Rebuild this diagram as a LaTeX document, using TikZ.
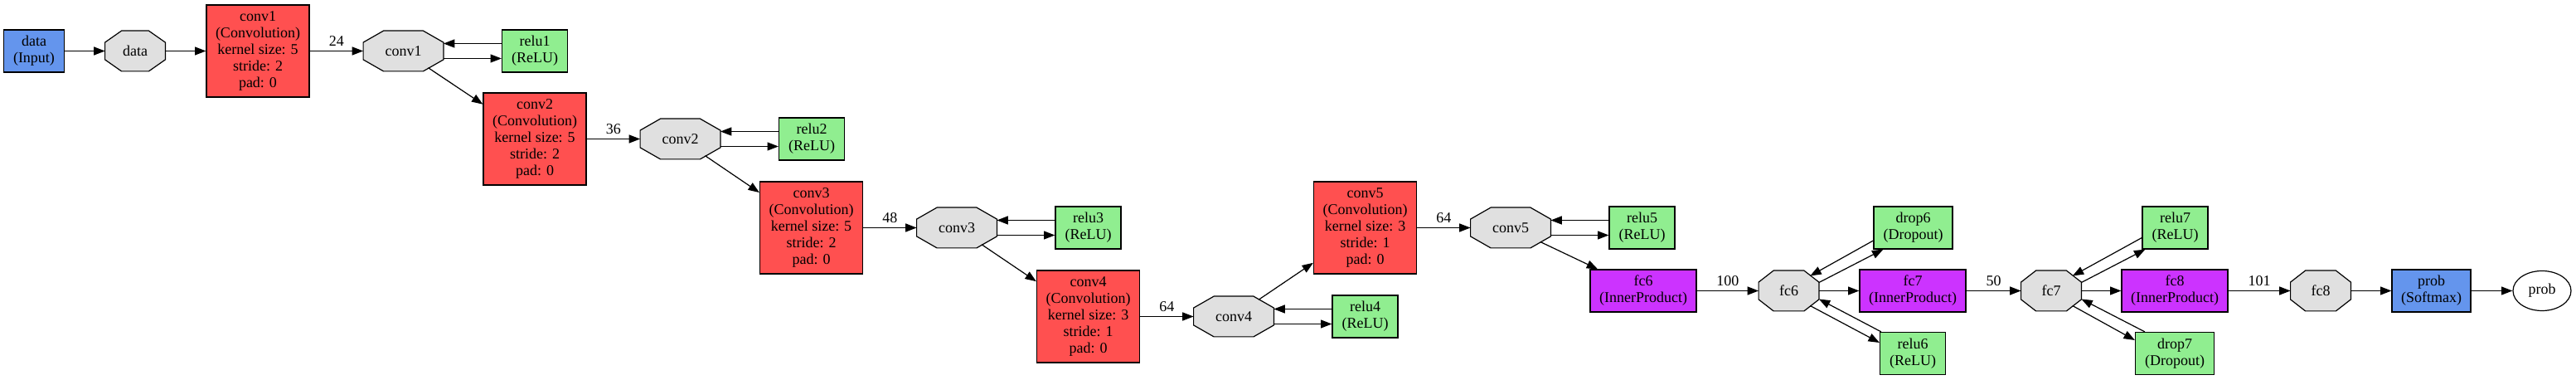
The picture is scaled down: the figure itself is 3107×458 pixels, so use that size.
\documentclass[tikz,border=0pt]{standalone}
\usepackage{fontspec}
\setmainfont{Liberation Serif}
\usetikzlibrary{arrows.meta,shapes.geometric}
\definecolor{convred}{HTML}{FF5050}
\definecolor{relugreen}{HTML}{90EE90}
\definecolor{ipviolet}{HTML}{CC33FF}
\definecolor{inblue}{HTML}{6495ED}
\definecolor{blobgray}{HTML}{E0E0E0}
\pgfdeclarelayer{background}
\pgfsetlayers{background,main}

\begin{document}
\begin{tikzpicture}[x=0.5pt,y=-0.5pt,
  font=\fontsize{9}{10}\selectfont,
  layer/.style={draw,line width=0.6pt,rectangle,align=center,inner sep=0pt,minimum height=25.5pt},
  convbox/.style={layer,fill=convred,minimum width=62pt,minimum height=55.5pt},
  relubox/.style={layer,fill=relugreen,minimum width=39.5pt},
  dropbox/.style={layer,fill=relugreen,minimum width=47.5pt},
  ipbox/.style={layer,fill=ipviolet,minimum width=64pt},
  inbox/.style={layer,fill=inblue,minimum width=36.5pt},
  blob/.style={rectangle,inner sep=0pt,minimum width=36pt,minimum height=24pt},
  wideblob/.style={blob,minimum width=48pt},
  octagon/.style={draw,line width=0.6pt,fill=blobgray,line join=miter},
  edge/.style={-{Triangle[length=6.7pt,width=5pt]},line width=0.6pt},
  dimlabel/.style={midway,yshift=5.75pt,inner sep=0pt}
]
\useasboundingbox (0,0) rectangle (3107,458);

% input layer and its blob
\node[inbox] (data) at (41,61.5) {data\\(Input)};
\node[blob] (bdata) at (163,61.5) {data};

% the convolution layers, their blobs and the relu layers
\foreach \n/\x/\y/\k/\s in {1/311/61.5/5/2,2/645/167.5/5/2,3/978.5/274.5/5/2,4/1312.5/381.5/3/1,5/1646.5/274.5/3/1}
{
\node[convbox] (conv\n) at (\x,\y) {conv\n\\(Convolution)\\kernel size: \k\\stride: \s\\pad: 0};
\node[wideblob] (bconv\n) at (\x+175.5,\y) {conv\n};
\node[relubox] (relu\n) at (\x+334,\y) {relu\n\\(ReLU)};
}

% fully connected part
\node[ipbox] (fc6) at (1982,350.5) {fc6\\(InnerProduct)};
\node[blob] (bfc6) at (2157.5,350.5) {fc6};
\node[dropbox] (drop6) at (2307.5,274.5) {drop6\\(Dropout)};
\node[ipbox] (fc7) at (2307,350.5) {fc7\\(InnerProduct)};
\node[relubox] (relu6) at (2307,426) {relu6\\(ReLU)};
\node[blob] (bfc7) at (2474,350.5) {fc7};
\node[relubox] (relu7) at (2623.5,274.5) {relu7\\(ReLU)};
\node[ipbox] (fc8) at (2623,350.5) {fc8\\(InnerProduct)};
\node[dropbox] (drop7) at (2623,426) {drop7\\(Dropout)};
\node[blob] (bfc8) at (2799,350.5) {fc8};
\node[inbox,minimum width=47.5pt] (prob) at (2932.5,350.5) {prob\\(Softmax)};
\node[draw,line width=0.6pt,ellipse,fill=white,inner sep=0pt,minimum width=35pt,minimum height=24pt] (bprob) at (3066,350.5) {prob};

% white page and the octagons of the blobs, behind their names
\begin{pgfonlayer}{background}
\fill[white] (0,0) rectangle (3107,458);
\foreach \b/\c in {bdata/10pt,bconv1/12.25pt,bconv2/12.25pt,bconv3/12.25pt,bconv4/12.25pt,bconv5/12.25pt,bfc6/9pt,bfc7/9pt,bfc8/9pt}
\filldraw[octagon] ([xshift=\c]\b.north west) -- ([xshift=-\c]\b.north east)
  -- ([yshift=-7pt]\b.north east) -- ([yshift=7pt]\b.south east)
  -- ([xshift=-\c]\b.south east) -- ([xshift=\c]\b.south west)
  -- ([yshift=7pt]\b.south west) -- ([yshift=-7pt]\b.north west) -- cycle;
\end{pgfonlayer}

% edges of the input
\draw[edge] (data) -- (bdata);
\draw[edge] (bdata) -- (conv1);

% edges of the convolutions, with the output sizes
\foreach \n/\d in {1/24,2/36,3/48,4/64,5/64}
{
\draw[edge] (conv\n) -- (bconv\n) node[dimlabel] {\d};
\draw[edge] ([yshift=4.5pt]relu\n.west) -- ([yshift=4.5pt]bconv\n.east);
\draw[edge] ([yshift=-4.5pt]bconv\n.east) -- ([yshift=-4.5pt]relu\n.west);
}
\foreach \a/\b in {bconv1/conv2,bconv2/conv3,bconv3/conv4}
\draw[edge] ([shift={(15pt,-10.1pt)}]\a.center) -- (\b);
\draw[edge] ([shift={(15pt,10.1pt)}]bconv4.center) -- (conv5);
\draw[edge] ([shift={(17.9pt,-8.5pt)}]bconv5.center) -- (fc6);

% edges of the fully connected layers
\foreach \a/\b/\d in {fc6/bfc6/100,fc7/bfc7/50,fc8/bfc8/101}
\draw[edge] (\a) -- (\b) node[dimlabel] {\d};
\draw[edge] (bfc6) -- (fc7);
\draw[edge] (bfc7) -- (fc8);
\draw[edge] (bfc8) -- (prob);
\draw[edge] (prob) -- (bprob);

% in-place layers on fc6 and fc7
\draw[edge] ([yshift=-7.75pt]drop6.west) -- ([shift={(12.9pt,9pt)}]bfc6.center);
\draw[edge] ([yshift=5pt]bfc6.east) -- ([xshift=6pt]drop6.south west);
\draw[edge] ([shift={(12.9pt,-9pt)}]bfc6.center) -- ([yshift=6.5pt]relu6.west);
\draw[edge] ([xshift=1pt]relu6.north west) -- ([yshift=-5pt]bfc6.east);
\draw[edge] ([yshift=-6pt]relu7.west) -- ([shift={(12.9pt,9pt)}]bfc7.center);
\draw[edge] ([yshift=5pt]bfc7.east) -- ([xshift=2pt]relu7.south west);
\draw[edge] ([shift={(12.9pt,-9pt)}]bfc7.center) -- ([yshift=8pt]drop7.west);
\draw[edge] ([xshift=6pt]drop7.north west) -- ([yshift=-5pt]bfc7.east);
\end{tikzpicture}
\end{document}
